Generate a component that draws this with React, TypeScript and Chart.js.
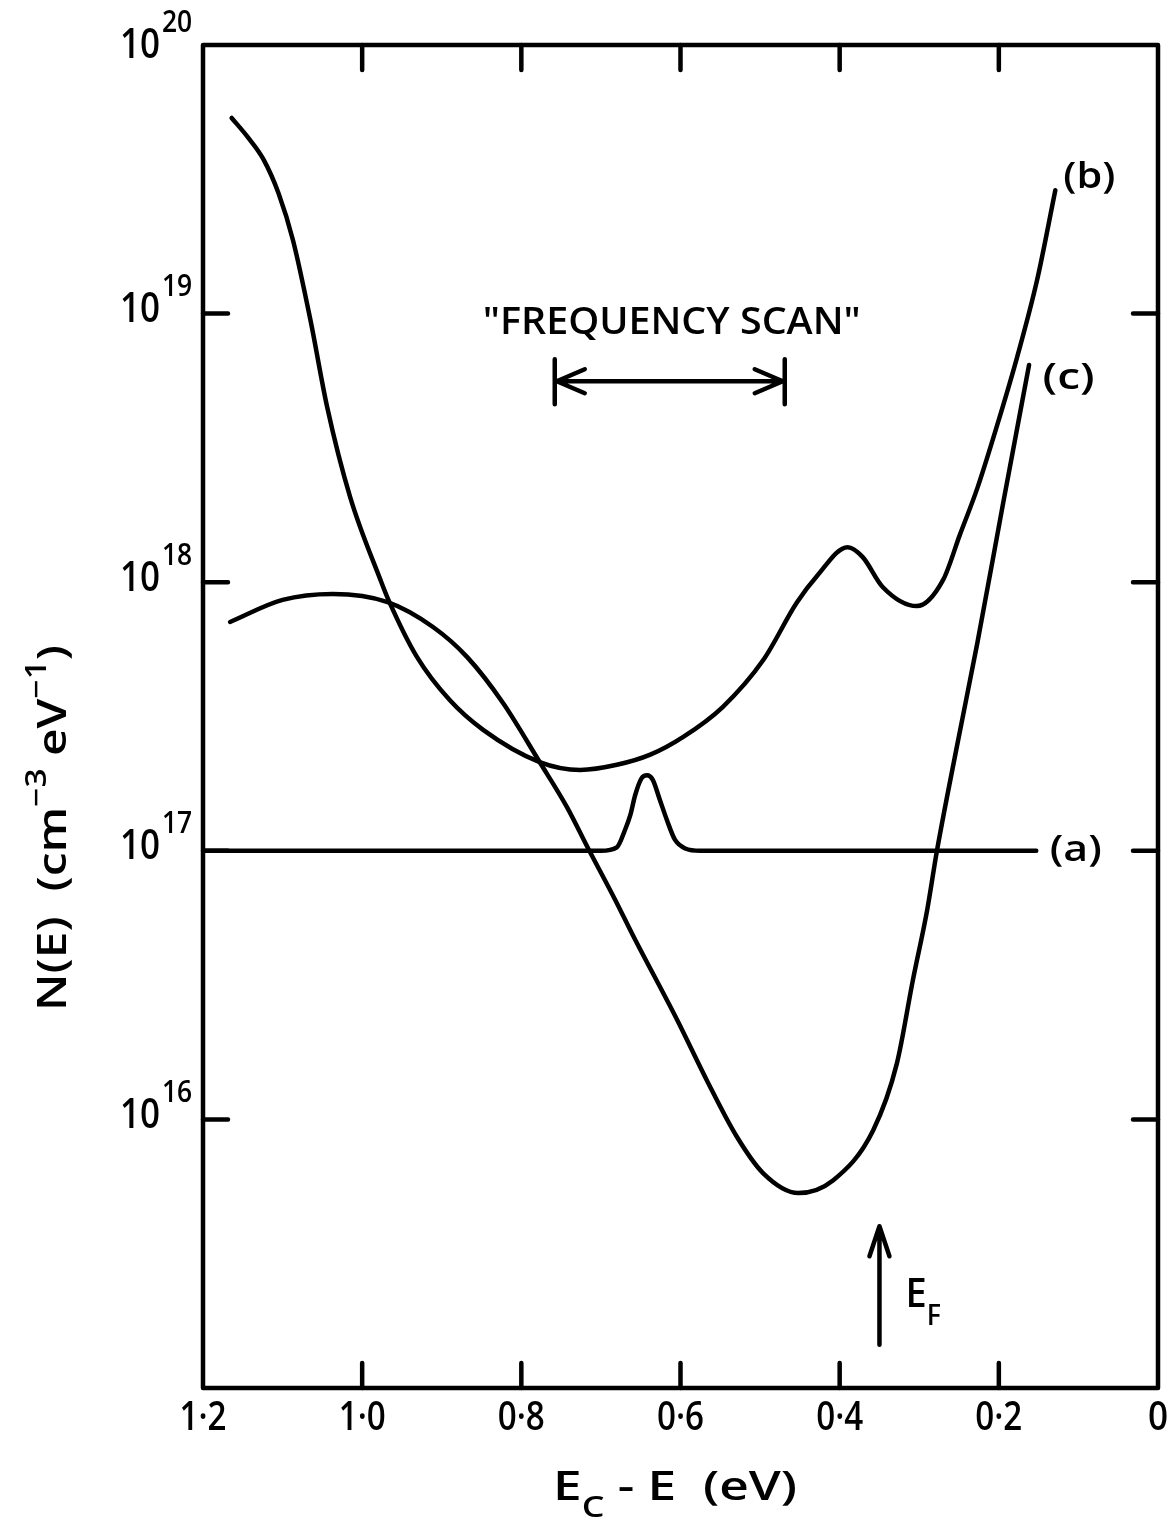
import React, { useEffect, useRef } from "react";
import { Chart, registerables } from "chart.js";

Chart.register(...registerables);

const W = 1172;
const H = 1522;

// Axis ticks
const energyTicks = [1.2, 1.0, 0.8, 0.6, 0.4, 0.2, 0];
const energyTickLabels = ["1·2", "1·0", "0·8", "0·6", "0·4", "0·2", "0"];
const decadeTicks = [1e20, 1e19, 1e18, 1e17, 1e16];
const decadeExponents = ["20", "19", "18", "17", "16"];

// Curve (a): flat background with a peak near 0.64 eV
const curveAEnergy = [1.2, 0.70, 0.680, 0.670, 0.663, 0.657, 0.649, 0.642, 0.635, 0.626, 0.617, 0.607, 0.594, 0.575, 0.153];
const curveAN = [1e17, 1e17, 1.03e17, 1.19e17, 1.36e17, 1.61e17, 1.86e17, 1.91e17, 1.84e17, 1.55e17, 1.30e17, 1.10e17, 1.02e17, 1e17, 1e17];

// Curve (b)
const curveBEnergy = [1.164, 1.144, 1.124, 1.105, 1.087, 1.065, 1.044, 1.015, 0.977, 0.967, 0.931, 0.890, 0.848, 0.777, 0.726, 0.680, 0.638, 0.597, 0.547, 0.496, 0.454, 0.429, 0.390, 0.371, 0.346, 0.303, 0.270, 0.249, 0.227, 0.202, 0.177, 0.152, 0.129];
const curveBN = [5.35e19, 4.55e19, 3.75e19, 2.8e19, 1.88e19, 9.46e18, 4.49e18, 2.07e18, 1.02e18, 8.6e17, 5.26e17, 3.64e17, 2.82e17, 2.14e17, 2.0e17, 2.09e17, 2.28e17, 2.65e17, 3.43e17, 5.13e17, 8.38e17, 1.05e18, 1.35e18, 1.24e18, 9.6e17, 8.15e17, 1.02e18, 1.5e18, 2.24e18, 3.85e18, 6.89e18, 1.33e19, 2.88e19];

// Curve (c)
const curveCEnergy = [1.166, 1.100, 1.037, 0.968, 0.911, 0.868, 0.823, 0.777, 0.743, 0.716, 0.682, 0.660, 0.604, 0.567, 0.529, 0.496, 0.452, 0.408, 0.358, 0.328, 0.308, 0.290, 0.278, 0.253, 0.227, 0.195, 0.162];
const curveCN = [7.11e17, 8.59e17, 9.04e17, 8.43e17, 6.81e17, 5.26e17, 3.55e17, 2.14e17, 1.46e17, 1.02e17, 6.56e16, 4.86e16, 2.34e16, 1.4e16, 8.6e15, 6.3e15, 5.32e15, 5.94e15, 9.1e15, 1.62e16, 3.3e16, 6.03e16, 9.91e16, 2.42e17, 5.94e17, 1.94e18, 6.44e18];

// Curve labels: [text, energy, N]
const curveLabels: [string, number, number][] = [
  ["(a)", 0.136, 1e17],
  ["(b)", 0.119, 3.2e19],
  ["(c)", 0.145, 5.7e18],
];

// "Frequency scan" range (eV) and level
const scanRange = [0.758, 0.469];
const scanLevel = 5.6e18;
const scanTextLevel = 9.2e18;
// Fermi level arrow
const fermiEnergy = 0.35;
const fermiArrowN = [1.45e15, 4.0e15];

const FAMILY = "'Open Sans', 'DejaVu Sans', sans-serif";
const font = (size: number) => `600 ${size}px ${FAMILY}`;

function toPoints(xs: number[], ys: number[]) {
  return xs.map((x, i) => ({ x, y: ys[i] }));
}

type Run = { t: string; size: number; dy: number };

// draws a sequence of text runs, squeezed horizontally to a target advance width
function drawRuns(
  ctx: CanvasRenderingContext2D,
  runs: Run[],
  x0: number,
  y0: number,
  target: number | null,
  align: "left" | "center" | "right",
  squeeze = 1
) {
  let total = 0;
  const widths = runs.map((r) => {
    ctx.font = font(r.size);
    const w = ctx.measureText(r.t).width;
    total += w;
    return w;
  });
  const s = target ? target / total : squeeze;
  const tw = total * s;
  const start = align === "left" ? x0 : align === "center" ? x0 - tw / 2 : x0 - tw;
  ctx.save();
  ctx.translate(start, y0);
  ctx.scale(s, 1);
  ctx.textAlign = "left";
  let u = 0;
  runs.forEach((r, i) => {
    ctx.font = font(r.size);
    ctx.fillText(r.t, u, r.dy);
    u += widths[i];
  });
  ctx.restore();
}

const decorPlugin = {
  id: "decor",
  afterDraw(chart: any) {
    const ctx: CanvasRenderingContext2D = chart.ctx;
    const { left, right, top, bottom } = chart.chartArea;
    const xs = chart.scales.x;
    const ys = chart.scales.y;
    ctx.save();
    ctx.strokeStyle = "#000";
    ctx.fillStyle = "#000";
    ctx.lineWidth = 4.5;
    ctx.lineCap = "round";
    ctx.lineJoin = "round";

    // frame
    ctx.strokeRect(left, top, right - left, bottom - top);

    // inward ticks
    const tl = 25;
    ctx.beginPath();
    energyTicks.forEach((e) => {
      if (e === 1.2 || e === 0) return;
      const px = xs.getPixelForValue(e);
      ctx.moveTo(px, bottom);
      ctx.lineTo(px, bottom - tl);
      ctx.moveTo(px, top);
      ctx.lineTo(px, top + tl);
    });
    decadeTicks.forEach((v) => {
      if (v === 1e20) return;
      const py = ys.getPixelForValue(v);
      ctx.moveTo(left, py);
      ctx.lineTo(left + tl, py);
      ctx.moveTo(right, py);
      ctx.lineTo(right - tl, py);
    });
    ctx.stroke();

    // x tick labels
    ctx.textBaseline = "middle";
    energyTicks.forEach((e, i) => {
      const lab = energyTickLabels[i];
      drawRuns(ctx, [{ t: lab, size: 39, dy: 0 }], xs.getPixelForValue(e), 1419, lab.length > 1 ? 47 : null, "center", 0.9);
    });

    // y tick labels 10^n
    decadeTicks.forEach((v, i) => {
      const py = ys.getPixelForValue(v);
      const off = v === 1e20 ? 4 : 0;
      ctx.textBaseline = "middle";
      drawRuns(ctx, [{ t: "10", size: 41, dy: 0 }], 160, py - 3 + off, 40, "right");
      drawRuns(ctx, [{ t: decadeExponents[i], size: 30, dy: 0 }], 162, py - 26 + off, null, "left", 0.88);
    });

    // x axis title: E_C - E (eV)
    ctx.textBaseline = "alphabetic";
    drawRuns(
      ctx,
      [
        { t: "E", size: 40, dy: 0 },
        { t: "C", size: 28, dy: 17 },
        { t: " - E  (eV)", size: 40, dy: 0 },
      ],
      553,
      1500,
      244,
      "left"
    );

    // y axis title (rotated)
    ctx.save();
    ctx.translate(66, 828);
    ctx.rotate(-Math.PI / 2);
    ctx.textBaseline = "alphabetic";
    drawRuns(
      ctx,
      [
        { t: "N(E)  (cm", size: 40, dy: 0 },
        { t: "\u22123", size: 28, dy: -20 },
        { t: " eV", size: 40, dy: 0 },
        { t: "\u22121", size: 28, dy: -20 },
        { t: ")", size: 40, dy: 0 },
      ],
      0,
      0,
      366,
      "center"
    );
    ctx.restore();

    // curve labels
    ctx.textBaseline = "middle";
    curveLabels.forEach(([t, e, n]) => {
      drawRuns(ctx, [{ t, size: 36, dy: 0 }], xs.getPixelForValue(e), ys.getPixelForValue(n), 52, "left");
    });

    // frequency scan
    const sx1 = xs.getPixelForValue(scanRange[0]);
    const sx2 = xs.getPixelForValue(scanRange[1]);
    const sy = ys.getPixelForValue(scanLevel);
    ctx.beginPath();
    ctx.moveTo(sx1, sy);
    ctx.lineTo(sx2, sy);
    ctx.moveTo(sx1, sy - 22);
    ctx.lineTo(sx1, sy + 23);
    ctx.moveTo(sx2, sy - 22);
    ctx.lineTo(sx2, sy + 23);
    ctx.moveTo(sx1 + 30, sy - 12);
    ctx.lineTo(sx1 + 2, sy);
    ctx.lineTo(sx1 + 30, sy + 12);
    ctx.moveTo(sx2 - 30, sy - 12);
    ctx.lineTo(sx2 - 2, sy);
    ctx.lineTo(sx2 - 30, sy + 12);
    ctx.stroke();
    ctx.textBaseline = "middle";
    drawRuns(ctx, [{ t: '"FREQUENCY SCAN"', size: 38, dy: 0 }], (sx1 + sx2) / 2 + 2, ys.getPixelForValue(scanTextLevel), 378, "center");

    // Fermi level arrow
    const fx = xs.getPixelForValue(fermiEnergy);
    const fy1 = ys.getPixelForValue(fermiArrowN[0]);
    const fy2 = ys.getPixelForValue(fermiArrowN[1]);
    ctx.beginPath();
    ctx.moveTo(fx, fy1);
    ctx.lineTo(fx, fy2);
    ctx.moveTo(fx - 10, fy2 + 30);
    ctx.lineTo(fx, fy2);
    ctx.lineTo(fx + 10, fy2 + 30);
    ctx.stroke();
    ctx.textBaseline = "alphabetic";
    drawRuns(
      ctx,
      [
        { t: "E", size: 40, dy: 0 },
        { t: "F", size: 28, dy: 18 },
      ],
      fx + 26,
      1307,
      null,
      "left",
      0.95
    );

    ctx.restore();
  },
};

export default function App() {
  const ref = useRef<HTMLCanvasElement>(null);
  useEffect(() => {
    const canvas = ref.current;
    if (!canvas) return;
    const lineStyle = {
      borderColor: "#000",
      borderWidth: 4.5,
      pointRadius: 0,
      fill: false,
      cubicInterpolationMode: "monotone" as const,
      borderCapStyle: "round" as const,
      borderJoinStyle: "round" as const,
    };
    const chart = new Chart(canvas, {
      type: "line",
      data: {
        datasets: [
          { label: "(a)", data: toPoints(curveAEnergy, curveAN), ...lineStyle },
          { label: "(b)", data: toPoints(curveBEnergy, curveBN), ...lineStyle },
          { label: "(c)", data: toPoints(curveCEnergy, curveCN), ...lineStyle },
        ],
      },
      options: {
        animation: false,
        responsive: false,
        devicePixelRatio: 1,
        layout: { padding: { left: 203, right: W - 1158, top: 45, bottom: H - 1388 } },
        plugins: { legend: { display: false }, tooltip: { enabled: false } },
        scales: {
          x: { type: "linear", reverse: true, min: 0, max: 1.2, display: false },
          y: { type: "logarithmic", min: 1e15, max: 1e20, display: false },
        },
      },
      plugins: [decorPlugin],
    });
    return () => chart.destroy();
  }, []);
  return (
    <div style={{ position: "absolute", left: 0, top: 0, width: W, height: H, background: "#fff" }}>
      <canvas ref={ref} width={W} height={H} style={{ display: "block", width: W, height: H }} />
    </div>
  );
}
